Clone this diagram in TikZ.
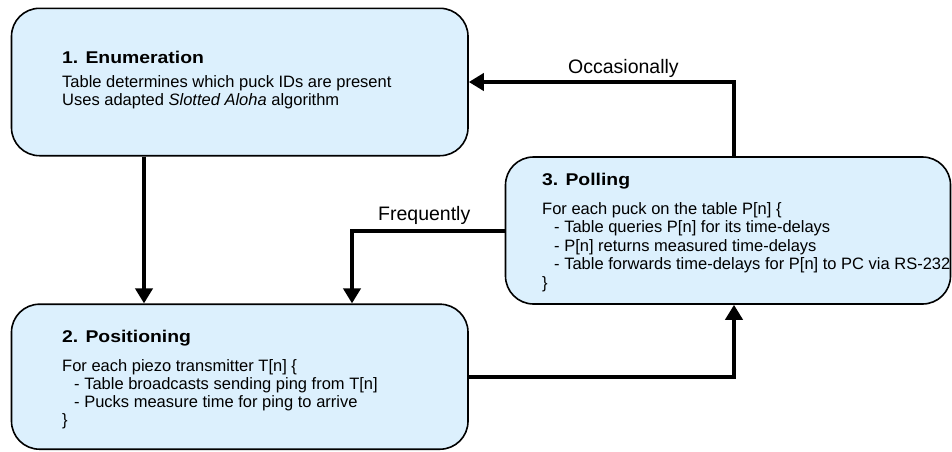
\documentclass[tikz,border=0pt]{standalone}
\usepackage{fontspec}
\setmainfont{Liberation Sans}
\newfontfamily\titlefont[FakeStretch=1.14]{Liberation Sans}
\usetikzlibrary{arrows.meta}
\definecolor{stagefill}{RGB}{220,240,253}
\tikzset{
  stage/.style={draw=black, line width=1.6pt, fill=stagefill, rounded corners=28pt,
                rectangle, inner sep=0pt},
  flow/.style={line width=4pt, -{Triangle[length=15pt,width=17pt]}},
  heading/.style={anchor=base west, inner sep=0pt, font=\titlefont\bfseries\fontsize{17}{19}\selectfont},
  line/.style={anchor=base west, inner sep=0pt, font=\fontsize{16.5}{18.3}\selectfont},
  tag/.style={anchor=base west, inner sep=0pt, font=\fontsize{19.5}{22}\selectfont}
}
\begin{document}
\begin{tikzpicture}[x=1pt, y=-1pt]
\useasboundingbox (0,0) rectangle (952,451);

% the three stages
\node[stage, minimum width=456.5pt, minimum height=147.4pt] (enum) at (239.75,82) {};
\node[stage, minimum width=456.5pt, minimum height=145pt] (pos) at (239.75,376.7) {};
\node[stage, minimum width=445pt, minimum height=147pt] (poll) at (728,230.5) {};

% stage 1 text
\node[heading] (enumh) at (62,63) {1. Enumeration};
\node[line] (enuma) at (62,87) {Table determines which puck IDs are present};
\node[line] (enumb) at (62,105) {Uses adapted \textit{Slotted Aloha} algorithm};

% stage 2 text
\node[heading] (posh) at (62,342) {2. Positioning};
\node[line] (posa) at (62,371) {For each piezo transmitter T[n] \{};
\node[line] (posb) at (74,389) {- Table broadcasts sending ping from T[n]};
\node[line] (posc) at (74,407) {- Pucks measure time for ping to arrive};
\node[line] (posd) at (62,425) {\}};

% stage 3 text
\node[heading] (pollh) at (542,185) {3. Polling};
\node[line] (polla) at (542,214) {For each puck on the table P[n] \{};
\node[line] (pollb) at (554,232.5) {- Table queries P[n] for its time-delays};
\node[line] (pollc) at (554,251) {- P[n] returns measured time-delays};
\node[line] (polld) at (554,269.5) {- Table forwards time-delays for P[n] to PC via RS-232};
\node[line] (polle) at (542,288) {\}};

% connector columns
\coordinate (cA) at (144,0);
\coordinate (cF) at (352,0);
\coordinate (cO) at (734,0);

% transitions
\draw[flow] (cA |- enum.south) -- (cA |- pos.north);
\draw[flow] (poll.west) -| (cF |- pos.north);
\draw[flow] (cO |- poll.north) |- (enum.east);
\draw[flow] (pos.east) -| (cO |- poll.south);

% transition labels
\node[tag] (occ) at (568,73.3) {Occasionally};
\node[tag] (freq) at (378,220) {Frequently};
\end{tikzpicture}
\end{document}
